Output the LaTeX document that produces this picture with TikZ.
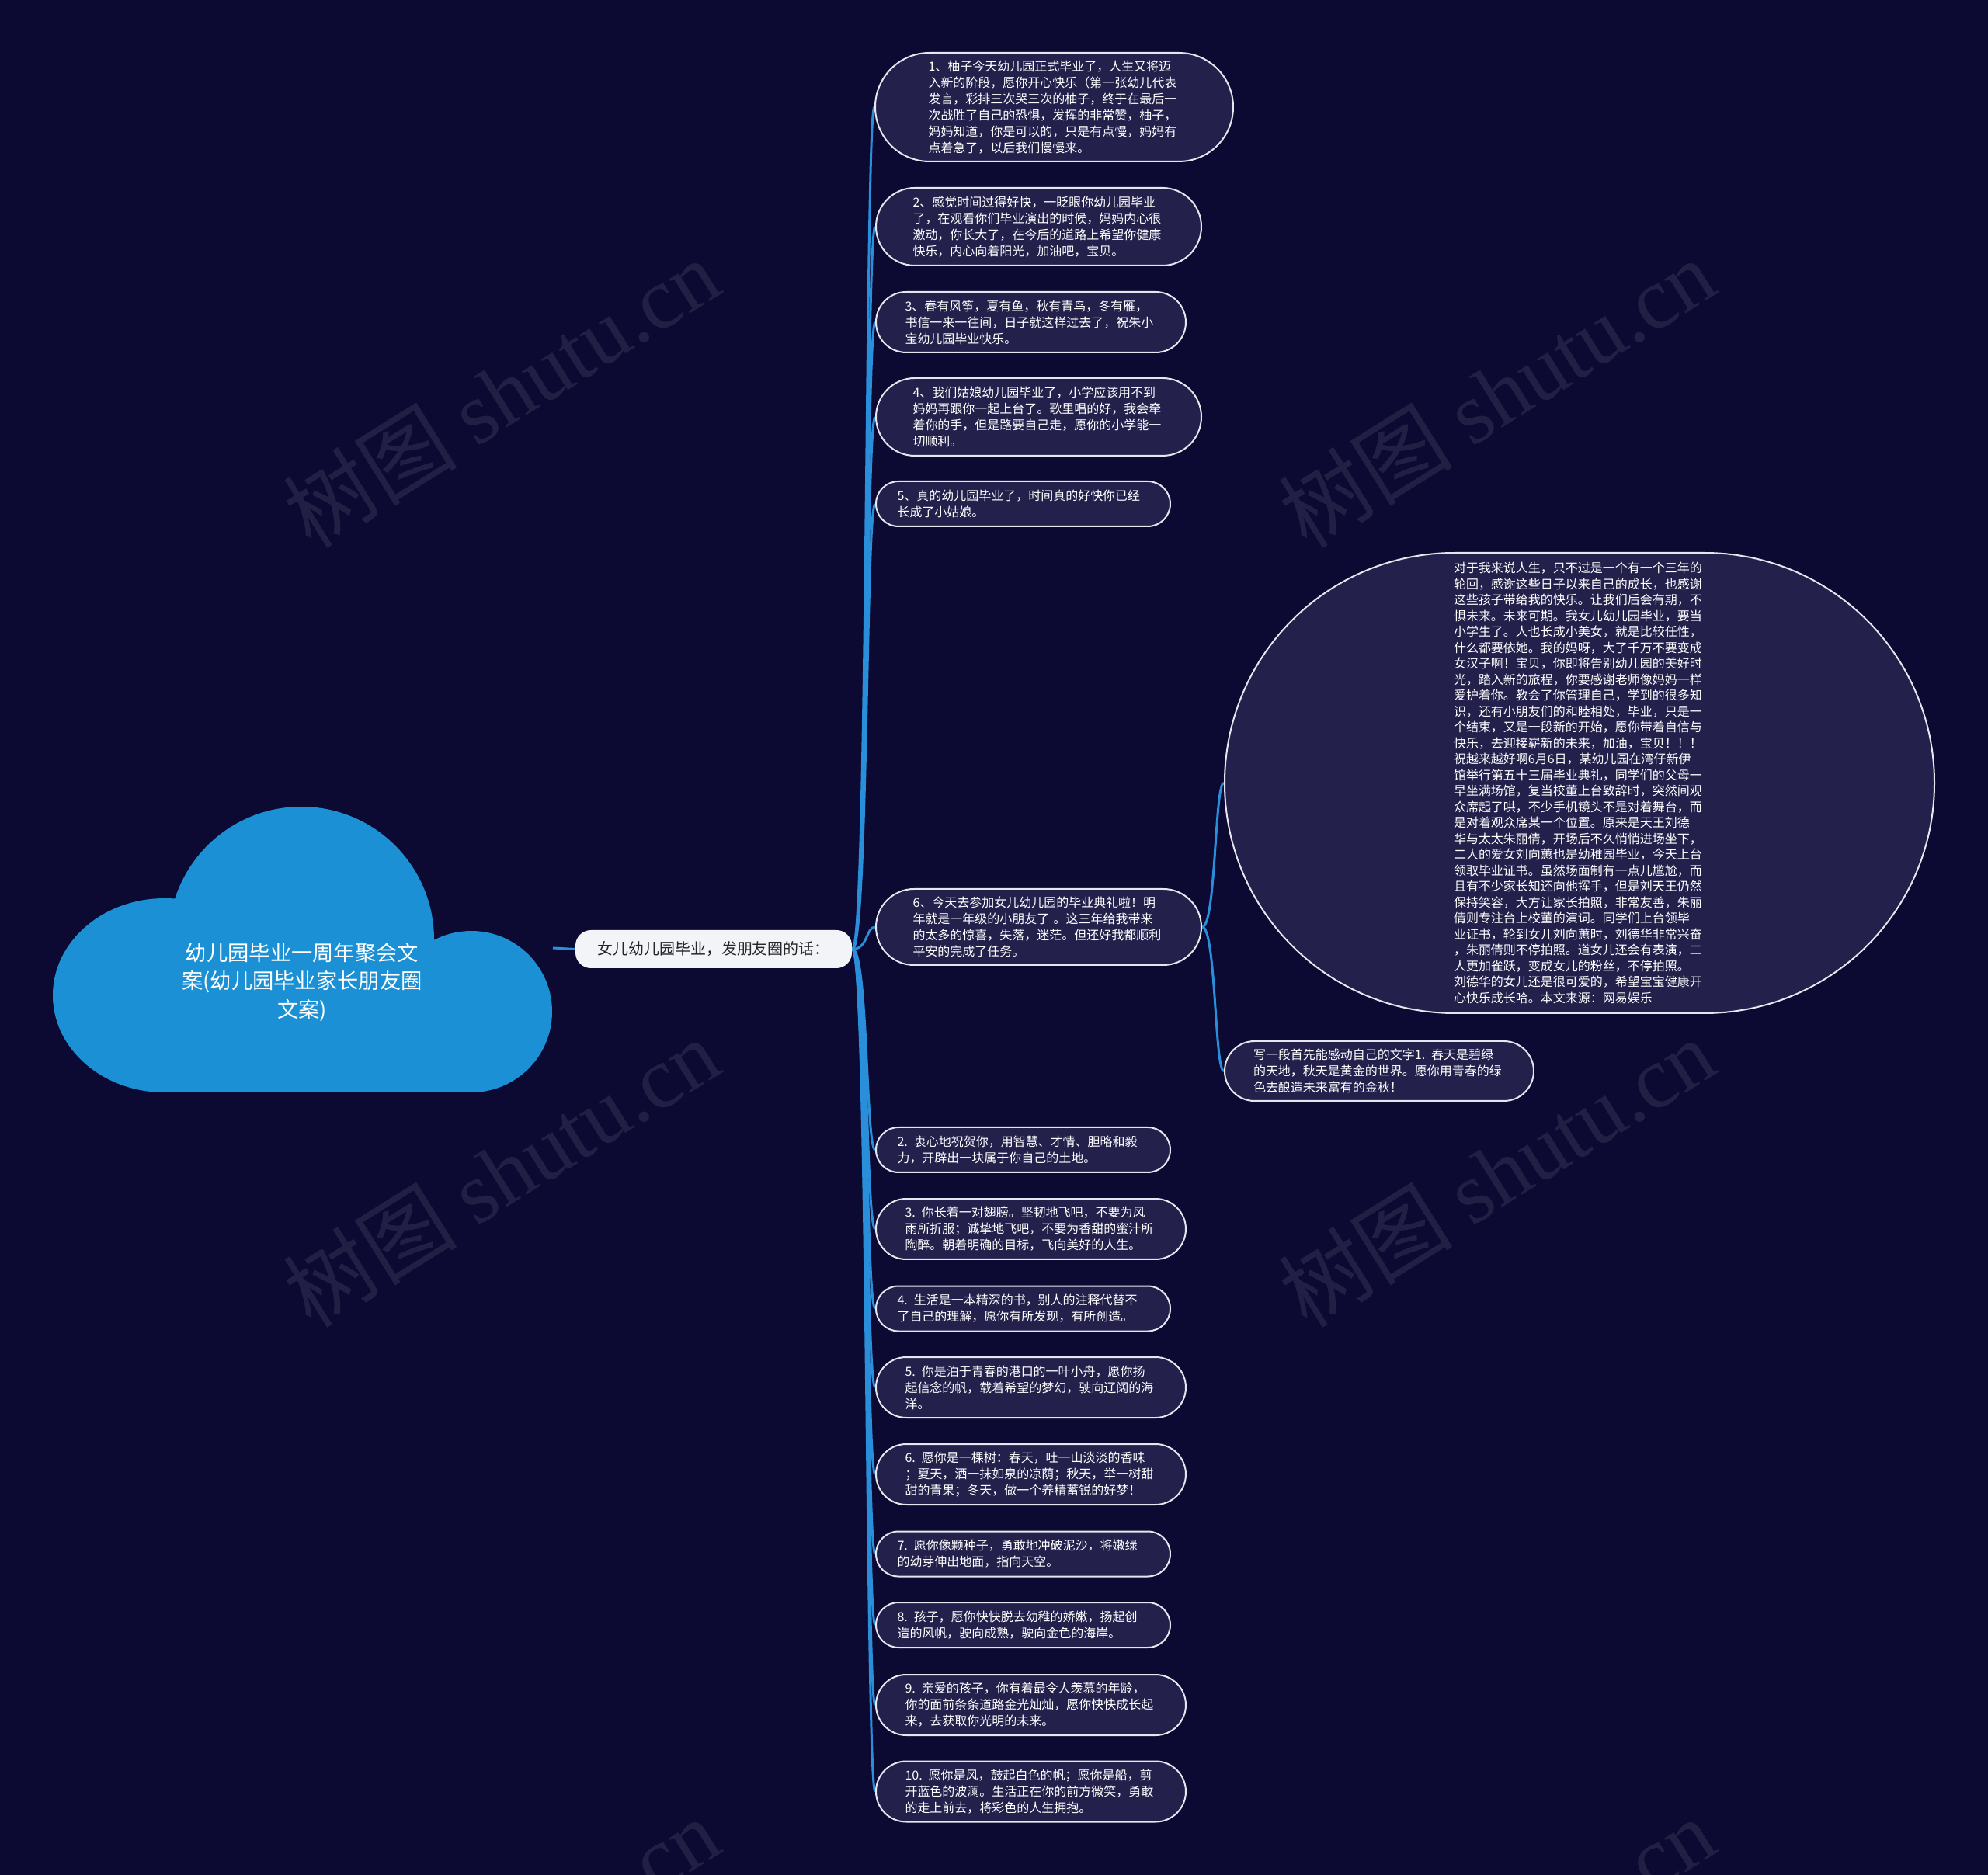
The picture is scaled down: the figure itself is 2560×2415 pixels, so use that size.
\documentclass[tikz,border=0pt]{standalone}
\usepackage{fontspec}
\setmainfont{Noto Sans CJK SC}
\newfontfamily\wmlatin{Liberation Serif}
\definecolor{bg}{HTML}{0C0A32}
\definecolor{nodefill}{HTML}{23204C}
\definecolor{nodeline}{HTML}{E6E6EE}
\definecolor{linkblue}{HTML}{2A8FDA}
\definecolor{cloudblue}{HTML}{1B90D5}
\definecolor{rootfill}{HTML}{F2F4F8}
\definecolor{roottext}{HTML}{262626}
\pgfdeclarelayer{back}
\pgfsetlayers{back,main}
\tikzset{
  leaf/.style={draw=nodeline, line width=0.2mm, fill=nodefill, text=white,
    text width=32.4mm, align=left, inner sep=0pt,
    font=\fontsize{4.55pt}{5.975pt}\selectfont},
  leafii/.style={leaf, minimum width=37.9mm, minimum height=5.8mm, rounded corners=2.9mm},
  leafiii/.style={leaf, minimum width=39.9mm, minimum height=7.8mm, rounded corners=3.9mm},
  leafiv/.style={leaf, minimum width=41.9mm, minimum height=10mm, rounded corners=5mm},
  leafvi/.style={leaf, minimum width=46.1mm, minimum height=14mm, rounded corners=7mm},
  bigleaf/.style={leaf, minimum width=91.4mm, minimum height=59.3mm, rounded corners=29.65mm,
    font=\fontsize{4.55pt}{5.83pt}\selectfont},
  link/.style={draw=linkblue, line width=0.3mm},
  wm/.style={text=white, opacity=0.09, rotate=32, font=\fontsize{32pt}{36pt}\selectfont, inner sep=0pt},
}
\begin{document}
\begin{tikzpicture}[x=0.1mm,y=-0.1mm]
\useasboundingbox (0,0) rectangle (2560,2415);
\begin{pgfonlayer}{back}
\fill[bg] (0,0) rectangle (2560,2415);
\node[wm] (wm1) at (645,506) {树图 {\wmlatin shutu.cn}};
\node[wm] (wm2) at (1927,506) {树图 {\wmlatin shutu.cn}};
\node[wm] (wm3) at (645,1510) {树图 {\wmlatin shutu.cn}};
\node[wm] (wm4) at (1927,1510) {树图 {\wmlatin shutu.cn}};
\node[wm] (wm5) at (645,2514) {树图 {\wmlatin shutu.cn}};
\node[wm] (wm6) at (1927,2514) {树图 {\wmlatin shutu.cn}};
\end{pgfonlayer}

% cloud
\fill[cloudblue] (388,1210) circle[radius=171];
\fill[cloudblue] (212,1282) ellipse[x radius=144, y radius=125];
\fill[cloudblue] (607,1303) circle[radius=104];
\fill[cloudblue] (212,1250) rectangle (607,1407);
\node[text=white, align=center, inner sep=0pt, font=\fontsize{7.77pt}{10.39pt}\selectfont] (title) at (389,1265)
  {幼儿园毕业一周年聚会文\\案(幼儿园毕业家长朋友圈\\文案)};
\coordinate (cE) at (712,1221);

% root
\node[fill=rootfill, text=roottext, rounded corners=2mm, minimum width=35.6mm, minimum height=4.9mm,
  inner sep=0pt, font=\fontsize{5.69pt}{7pt}\selectfont] (root) at (919,1222.5) {女儿幼儿园毕业，发朋友圈的话：};

% upper leaves
\node[leafvi] (n1) at (1357.5,138) {1、柚子今天幼儿园正式毕业了，人生又将迈\\入新的阶段，愿你开心快乐（第一张幼儿代表\\发言，彩排三次哭三次的柚子，终于在最后一\\次战胜了自己的恐惧，发挥的非常赞，柚子，\\妈妈知道，你是可以的，只是有点慢，妈妈有\\点着急了，以后我们慢慢来。};
\node[leafiv] (n2) at (1337.5,292) {2、感觉时间过得好快，一眨眼你幼儿园毕业\\了，在观看你们毕业演出的时候，妈妈内心很\\激动，你长大了，在今后的道路上希望你健康\\快乐，内心向着阳光，加油吧，宝贝。};
\node[leafiii] (n3) at (1327.5,415) {3、春有风筝，夏有鱼，秋有青鸟，冬有雁，\\书信一来一往间，日子就这样过去了，祝朱小\\宝幼儿园毕业快乐。};
\node[leafiv] (n4) at (1337.5,537) {4、我们姑娘幼儿园毕业了，小学应该用不到\\妈妈再跟你一起上台了。歌里唱的好，我会牵\\着你的手，但是路要自己走，愿你的小学能一\\切顺利。};
\node[leafii] (n5) at (1317.5,649) {5、真的幼儿园毕业了，时间真的好快你已经\\长成了小姑娘。};
\node[leafiv, minimum height=9.8mm, rounded corners=4.9mm] (n6) at (1337.5,1194) {6、今天去参加女儿幼儿园的毕业典礼啦！明\\年就是一年级的小朋友了 。这三年给我带来\\的太多的惊喜，失落，迷茫。但还好我都顺利\\平安的完成了任务。};

% big node
\node[bigleaf] (big) at (2034,1008.5) {对于我来说人生，只不过是一个有一个三年的\\轮回，感谢这些日子以来自己的成长，也感谢\\这些孩子带给我的快乐。让我们后会有期，不\\惧未来。未来可期。我女儿幼儿园毕业，要当\\小学生了。人也长成小美女，就是比较任性，\\什么都要依她。我的妈呀，大了千万不要变成\\女汉子啊！宝贝，你即将告别幼儿园的美好时\\光，踏入新的旅程，你要感谢老师像妈妈一样\\爱护着你。教会了你管理自己，学到的很多知\\识，还有小朋友们的和睦相处，毕业，只是一\\个结束，又是一段新的开始，愿你带着自信与\\快乐，去迎接崭新的未来，加油，宝贝！！！\\祝越来越好啊6月6日，某幼儿园在湾仔新伊\\馆举行第五十三届毕业典礼，同学们的父母一\\早坐满场馆，复当校董上台致辞时，突然间观\\众席起了哄，不少手机镜头不是对着舞台，而\\是对着观众席某一个位置。原来是天王刘德\\华与太太朱丽倩，开场后不久悄悄进场坐下，\\二人的爱女刘向蕙也是幼稚园毕业，今天上台\\领取毕业证书。虽然场面制有一点儿尴尬，而\\且有不少家长知还向他挥手，但是刘天王仍然\\保持笑容，大方让家长拍照，非常友善，朱丽\\倩则专注台上校董的演词。同学们上台领毕\\业证书，轮到女儿刘向蕙时，刘德华非常兴奋\\，朱丽倩则不停拍照。道女儿还会有表演，二\\人更加雀跃，变成女儿的粉丝，不停拍照。\\刘德华的女儿还是很可爱的，希望宝宝健康开\\心快乐成长哈。本文来源：网易娱乐};
\node[leafiii, minimum width=39.8mm, minimum height=7.7mm, rounded corners=3.85mm] (w) at (1776,1379.5) {写一段首先能感动自己的文字1. 春天是碧绿\\的天地，秋天是黄金的世界。愿你用青春的绿\\色去酿造未来富有的金秋！};

% lower leaves
\node[leafii] (b2) at (1317.5,1481) {2. 衷心地祝贺你，用智慧、才情、胆略和毅\\力，开辟出一块属于你自己的土地。};
\node[leafiii] (b3) at (1327.5,1583) {3. 你长着一对翅膀。坚韧地飞吧，不要为风\\雨所折服；诚挚地飞吧，不要为香甜的蜜汁所\\陶醉。朝着明确的目标，飞向美好的人生。};
\node[leafii] (b4) at (1317.5,1685.5) {4. 生活是一本精深的书，别人的注释代替不\\了自己的理解，愿你有所发现，有所创造。};
\node[leafiii] (b5) at (1327.5,1787) {5. 你是泊于青春的港口的一叶小舟，愿你扬\\起信念的帆，载着希望的梦幻，驶向辽阔的海\\洋。};
\node[leafiii] (b6) at (1327.5,1899) {6. 愿你是一棵树：春天，吐一山淡淡的香味\\；夏天，洒一抹如泉的凉荫；秋天，举一树甜\\甜的青果；冬天，做一个养精蓄锐的好梦！};
\node[leafii] (b7) at (1317.5,2001.5) {7. 愿你像颗种子，勇敢地冲破泥沙，将嫩绿\\的幼芽伸出地面，指向天空。};
\node[leafii] (b8) at (1317.5,2093) {8. 孩子，愿你快快脱去幼稚的娇嫩，扬起创\\造的风帆，驶向成熟，驶向金色的海岸。};
\node[leafiii] (b9) at (1327.5,2196) {9. 亲爱的孩子，你有着最令人羡慕的年龄，\\你的面前条条道路金光灿灿，愿你快快成长起\\来，去获取你光明的未来。};
\node[leafiii] (b10) at (1327.5,2307.5) {10. 愿你是风，鼓起白色的帆；愿你是船，剪\\开蓝色的波澜。生活正在你的前方微笑，勇敢\\的走上前去，将彩色的人生拥抱。};

\begin{pgfonlayer}{back}
\draw[link] (cE) -- (root.west);
\foreach \n in {n1,n2,n3,n4,n5,n6,b2,b3,b4,b5,b6,b7,b8,b9,b10}{
  \draw[link] (root.east) .. controls +(20,0) and +(-12,0) .. (\n.west);
}
\draw[link] (n6.east) .. controls +(18,0) and +(-12,0) .. (big.west);
\draw[link] (n6.east) .. controls +(18,0) and +(-12,0) .. (w.west);
\end{pgfonlayer}
\end{tikzpicture}
\end{document}
